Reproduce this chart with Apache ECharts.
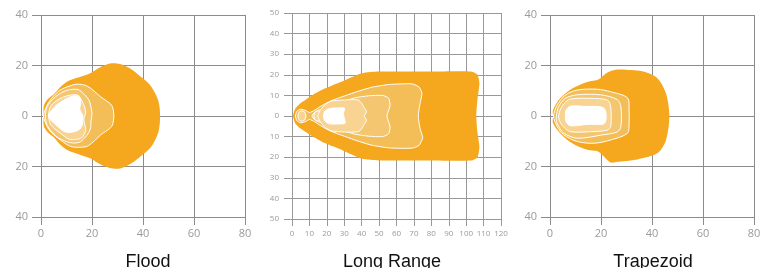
<!DOCTYPE html>
<html>
<head>
<meta charset="utf-8">
<script src="https://cdn.jsdelivr.net/npm/echarts@6/dist/echarts.min.js"></script>
<style>
  html, body { margin: 0; padding: 0; background: #fff; }
  #chart { width: 767px; height: 268px; }
</style>
</head>
<body>
<div id="chart"></div>
<script>
// panel titles and axis ranges
var titles = ['Flood', 'Long Range', 'Trapezoid'];
var floodTicks = [0, 20, 40, 60, 80];
var longTicks = [0, 10, 20, 30, 40, 50, 60, 70, 80, 90, 100, 110, 120];

// beam pattern contours, [distance, spread] points
var floodOuter = [[1,0],[1.1,4],[2.5,6.5],[5,8.6],[7.6,11.5],[10.5,13.8],[15,15.3],[19.5,17],[23,19.2],[27,20.8],[31,20.6],[35,18.8],[39,15.6],[43,12],[46,6],[46.7,0],
  [46,-6.5],[43,-12.5],[39,-16],[35,-19],[31,-20.8],[27,-20.6],[23,-19],[19.5,-16.8],[15,-15.2],[10.5,-13.6],[7.6,-11.4],[5,-8.4],[2.5,-6.3],[1.1,-4]];
var floodL2 = [[1,0],[2.4,4.3],[5,8],[7.6,10.3],[11,11.8],[14.2,12.6],[18.2,11.8],[23.4,7.6],[28,3.7],[28,-3.6],[23.4,-7.5],[18.5,-11.8],[15,-12.4],[11.5,-12],[7.6,-9.5],[4,-6.5],[2.4,-4.2]];
var floodL3 = [[1.7,0],[2.4,3.7],[4.5,6.5],[7,8.6],[10.3,10.2],[14.5,10.5],[17,8.5],[18.8,6.3],[19.5,4],[20,1],[19.6,-2],[19.5,-4.5],[18.8,-6.5],[17,-8.8],[15,-10.4],[11.6,-10.6],[7,-8.8],[4.5,-6.5],[2.4,-3.6]];
var floodL4 = [[3,0],[3.7,3.7],[6,6],[8.5,7.4],[11.6,8.3],[14.5,8.2],[16.2,5.7],[17,3.8],[17.5,1.5],[16.8,-1.6],[17.3,-4],[17.5,-5.8],[16,-8.6],[13.5,-9.3],[11,-9.2],[7.6,-6.8],[5,-4.8],[3.7,-3.2]];
var floodCore = [[3,0.6],[5.5,3.8],[8.9,6.3],[12.8,8],[15,7.6],[15.6,5],[15.2,2.8],[16.4,0],[16.1,-3.8],[14.8,-5.5],[11.5,-6.5],[8.9,-6],[5.5,-3.2],[3,-0.6]];

var longOuter = [[0.6,0],[1.9,3.7],[4.5,6],[7.7,7.8],[12,10.3],[17.2,12.7],[23,14.8],[28.7,16.7],[34,18.8],[40.2,20.8],[49.8,21.6],[80,21.6],[103,21.6],[106.5,20],[107.6,15.9],[106.5,8],[105.8,0],[106.5,-8],[107.6,-15],[106.5,-20],[103,-21.6],[80,-21.6],[49.8,-21.6],[40.2,-20.8],[34,-18.6],[28.7,-16.5],[23,-14.6],[17.2,-12.5],[12,-10],[7.7,-7.6],[4.5,-5.8],[1.9,-3.6]];
var longL2 = [[2,0],[2.8,2.3],[5.2,3.3],[8,2.6],[10,1.7],[13,2.8],[17,5],[22,7.2],[30,9.7],[38,12],[46,14],[56,15.3],[69,15.6],[73,14],[74.6,11],[73.5,6],[72.5,0],[73.5,-6],[75,-10.5],[73,-14.2],[69,-15.6],[56,-15.5],[46,-14.2],[38,-12.2],[30,-9.8],[22,-7.3],[17,-5],[13,-2.8],[10,-1.7],[8,-2.6],[5.2,-3.3],[2.8,-2.3]];
var longBulb = [[3.4,0],[4,1.8],[5.5,2.5],[7.2,2],[8,0],[7.2,-2],[5.5,-2.5],[4,-1.8]];
var longL3 = [[11.5,0],[13,1.8],[17,3.4],[25,5.8],[36,8.8],[44,9.8],[52,10],[55.5,8.6],[56.3,5],[54.5,0],[56.3,-5.2],[55.5,-8.6],[52,-10],[44,-9.8],[36,-8.8],[25,-5.8],[17,-3.4],[13,-1.8]];
var longL4 = [[14.8,0],[16,2.5],[18.5,5.2],[22.5,7.2],[30,7.8],[38,7.8],[40,6.2],[41.5,4],[42.8,2],[41.5,0],[42.8,-2],[41.5,-4],[40,-6.2],[38,-7.6],[30,-7.8],[22.5,-7.2],[18.5,-5.2],[16,-2.5]];
var longNeck = [[12.6,0],[13.2,1.8],[15,2.5],[16.6,1.8],[17.2,0],[16.6,-1.8],[15,-2.5],[13.2,-1.8]];
var longCore = [[18,0],[18.8,2.4],[21.5,3.7],[26,3.9],[30.2,3.8],[29.5,1],[30.5,-3.5],[26,-3.9],[21.5,-3.8],[18.8,-2.4]];

var trapOuter = [[1.2,0],[1.2,2.4],[4,7],[8.7,10.9],[14.6,13.5],[19.2,14.6],[22.5,17.2],[26.4,18.4],[31.7,18.2],[37,17.5],[42.2,14.9],[45.5,8.9],[46.8,0],[45.5,-9.5],[42.2,-14.7],[34.3,-17.2],[26,-18.2],[23.8,-18.4],[21.8,-16.7],[18.6,-14],[14.6,-13.4],[8.7,-10.8],[4,-6.8],[1.2,-2.9]];
var trapL2 = [[1.4,0],[2.8,4.3],[6,8.3],[10.7,10.3],[18.6,10.6],[23.8,9.6],[30.4,7.2],[31,2.4],[31,-2.9],[30.4,-6.8],[23.8,-9.5],[17.2,-10.8],[10.7,-10.1],[5.4,-7.5],[2.8,-4.2]];
var trapL3 = [[2.5,0],[3.4,3.7],[6,7],[10.7,8.4],[19.9,8.4],[26.4,6.5],[27.8,3.7],[27.8,-4.2],[26.4,-6.3],[19.9,-7.6],[10.7,-8.8],[5.4,-6.8],[2.8,-2.9]];
var trapL4 = [[3.4,0],[4,2.5],[5.6,5],[8,6.7],[15.9,7],[22.5,6.3],[23.8,3.7],[23.8,-4.2],[22.5,-5.6],[15.9,-6.2],[8,-6.2],[5.2,-4.2],[3.6,-1.6]];
var trapCore = [[6,0.3],[6.3,2.4],[8,3.9],[13.3,3.8],[21.2,3.1],[21.4,-2.9],[14.6,-3.3],[8,-3.9],[6.3,-2.3]];

var cOuter = '#f5a81e', cL2 = '#f3bd57', cL3 = '#f5c670', cL4 = '#f8d391';

function shape(pts, gi, fill, stroke, smooth) {
  return {
    type: 'custom',
    xAxisIndex: gi,
    yAxisIndex: gi,
    silent: true,
    animation: false,
    data: pts,
    renderItem: function (params, api) {
      if (params.dataIndex !== 0) return;
      var p = pts.map(function (d) { return api.coord(d); });
      return {
        type: 'polygon',
        shape: { points: p, smooth: smooth == null ? 0.3 : smooth },
        style: { fill: fill, stroke: stroke || null, lineWidth: 1 }
      };
    }
  };
}

function xAx(gi, max, interval, color, size, tick) {
  return {
    gridIndex: gi, type: 'value', min: 0, max: max, interval: interval,
    axisLine: { show: false, onZero: false },
    axisTick: { show: true, length: tick, lineStyle: { color: color } },
    splitLine: { show: true, lineStyle: { color: color, width: 1 } },
    axisLabel: { color: '#9a9a9a', fontSize: size, fontFamily: 'Open Sans', margin: 11 }
  };
}
function yAx(gi, lim, interval, color, size, tick) {
  return {
    gridIndex: gi, type: 'value', min: -lim, max: lim, interval: interval,
    axisLine: { show: false, onZero: false },
    axisTick: { show: true, length: tick, lineStyle: { color: color } },
    splitLine: { show: true, lineStyle: { color: color, width: 1 } },
    axisLabel: {
      color: '#9a9a9a', fontSize: size, fontFamily: 'Open Sans', margin: 13,
      formatter: function (v) { return String(Math.abs(v)); }
    }
  };
}

var titleStyle = { fontSize: 18, fontWeight: 'normal', color: '#111', fontFamily: 'Liberation Sans' };

var chart = echarts.init(document.getElementById('chart'));
var option = {
  animation: false,
  title: [
    { text: titles[0], left: 143, top: 248, textAlign: 'center', textStyle: titleStyle },
    { text: titles[1], left: 387, top: 248, textAlign: 'center', textStyle: titleStyle },
    { text: titles[2], left: 648, top: 248, textAlign: 'center', textStyle: titleStyle }
  ],
  grid: [
    { left: 41, top: 15, width: 204, height: 202 },
    { left: 292, top: 13, width: 209, height: 206 },
    { left: 550, top: 15, width: 204, height: 202 }
  ],
  xAxis: [
    xAx(0, floodTicks[floodTicks.length - 1], 20, '#8c8c8c', 11, 8),
    xAx(1, longTicks[longTicks.length - 1], 10, '#999', 8, 7),
    xAx(2, floodTicks[floodTicks.length - 1], 20, '#8c8c8c', 11, 8)
  ],
  yAxis: [
    yAx(0, 40, 20, '#8c8c8c', 11, 9),
    yAx(1, 50, 10, '#999', 8, 8),
    yAx(2, 40, 20, '#8c8c8c', 11, 9)
  ],
  series: [
    shape(floodOuter, 0, cOuter, null),
    shape(floodL2, 0, cL2, '#fff'),
    shape(floodL3, 0, cL3, '#fff'),
    shape(floodL4, 0, cL4, '#fff'),
    shape(floodCore, 0, '#fff', '#fff'),

    shape(longOuter, 1, cOuter, null, 0.2),
    shape(longL2, 1, cL2, '#fff', 0.2),
    shape(longBulb, 1, cL4, '#fff'),
    shape(longL3, 1, cL3, '#fff', 0.2),
    shape(longNeck, 1, cL4, '#fff'),
    shape(longL4, 1, cL4, '#fff', 0.2),
    shape(longCore, 1, '#fff', '#fff', 0.2),

    shape(trapOuter, 2, cOuter, null),
    shape(trapL2, 2, cL2, '#fff'),
    shape(trapL3, 2, cL3, '#fff'),
    shape(trapL4, 2, cL4, '#fff'),
    shape(trapCore, 2, '#fff', '#fff')
  ]
};
chart.setOption(option);
</script>
</body>
</html>
